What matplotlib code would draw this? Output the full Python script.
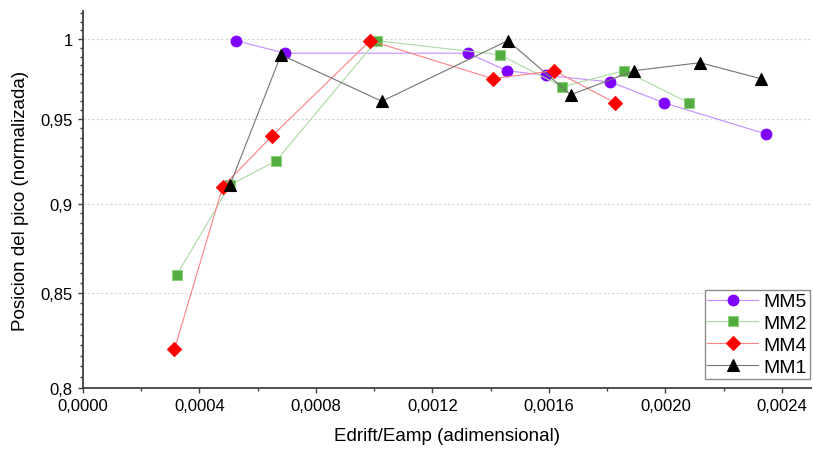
import matplotlib
matplotlib.use("Agg")
import matplotlib.pyplot as plt
from matplotlib.ticker import FixedLocator, FixedFormatter, NullFormatter
import numpy as np

plt.rcParams['font.family'] = ['Liberation Sans', 'DejaVu Sans']

# ---- data ----
mm5_x = [0.000524, 0.000694, 0.001323, 0.001455, 0.001590, 0.001810, 0.001996, 0.002347]
mm5_y = [0.999, 0.991, 0.991, 0.980, 0.977, 0.973, 0.960, 0.941]

mm2_x = [0.000322, 0.000505, 0.000663, 0.001008, 0.001432, 0.001646, 0.001859, 0.002081]
mm2_y = [0.860, 0.911, 0.925, 0.999, 0.990, 0.970, 0.980, 0.960]

mm4_x = [0.000314, 0.000480, 0.000650, 0.000986, 0.001407, 0.001618, 0.001827]
mm4_y = [0.820, 0.910, 0.940, 0.999, 0.975, 0.980, 0.960]

mm1_x = [0.000505, 0.000680, 0.001026, 0.001459, 0.001675, 0.001893, 0.002119, 0.002327]
mm1_y = [0.911, 0.990, 0.961, 0.999, 0.965, 0.980, 0.985, 0.975]

series_labels = ["MM5", "MM2", "MM4", "MM1"]

x_ticks = [0.0, 0.0004, 0.0008, 0.0012, 0.0016, 0.0020, 0.0024]
x_tick_labels = ["0,0000", "0,0004", "0,0008", "0,0012", "0,0016", "0,0020", "0,0024"]
y_ticks = [0.8, 0.85, 0.9, 0.95, 1.0]
y_tick_labels = ["0,8", "0,85", "0,9", "0,95", "1"]

# ---- figure ----
fig = plt.figure(figsize=(8.13, 4.52), dpi=100)
ax = fig.add_axes([83/813, 63/452, 728/813, 377/452])

styles = [
    dict(color='#c48cff', marker='o', ms=7.7, mfc='#7f00ff', mec='#7f00ff'),
    dict(color='#acd9a2', marker='s', ms=6.6, mfc='#52ad3f', mec='#8fcf80'),
    dict(color='#ff8282', marker='D', ms=7.0, mfc='#ff0000', mec='#ff0000'),
    dict(color='#737373', marker='^', ms=8.6, mfc='#000000', mec='#000000'),
]
data = [(mm5_x, mm5_y), (mm2_x, mm2_y), (mm4_x, mm4_y), (mm1_x, mm1_y)]
for (xs, ys), st, lab in zip(data, styles, series_labels):
    ax.plot(xs, ys, lw=0.8, mew=0.8, label=lab, **st)

ax.set_yscale('log')
ax.set_xlim(0, 0.0025)
ax.set_ylim(0.8, 1.0181)

ax.xaxis.set_major_locator(FixedLocator(x_ticks))
ax.xaxis.set_major_formatter(FixedFormatter(x_tick_labels))
ax.xaxis.set_minor_locator(FixedLocator(np.arange(0.0002, 0.0025, 0.0004)))
ax.yaxis.set_major_locator(FixedLocator(y_ticks))
ax.yaxis.set_major_formatter(FixedFormatter(y_tick_labels))
ax.yaxis.set_minor_locator(FixedLocator([0.8 + k * 0.05 / 9 for k in range(40) if k % 9 != 0]))
ax.yaxis.set_minor_formatter(NullFormatter())

for s in ['top', 'right']:
    ax.spines[s].set_visible(False)
for s in ['left', 'bottom']:
    ax.spines[s].set_color('#404040')
    ax.spines[s].set_linewidth(1.3)

ax.tick_params(which='major', direction='out', length=3.5, width=1.0, color='#404040',
               labelsize=12, pad=4)
ax.tick_params(which='minor', direction='out', length=2.2, width=1.0, color='#404040')

for yv in y_ticks[1:]:
    ax.axhline(yv, color='#d4d4d4', lw=0.8, ls=(0, (2, 2)), zorder=0)

ax.set_xlabel("Edrift/Eamp (adimensional)", fontsize=13.5, labelpad=10)
ax.set_ylabel("Posicion del pico (normalizada)", fontsize=13.5, labelpad=8)

leg = ax.legend(loc='lower right', bbox_to_anchor=(0.999, 0.024), borderaxespad=0,
                fontsize=14, fancybox=False, framealpha=1, edgecolor='#8c8c8c',
                handlelength=2.6, handletextpad=0.3, labelspacing=0.22, borderpad=0.15,
                numpoints=1)
leg.get_frame().set_linewidth(1.0)

fig.savefig("out.png", dpi=100)
